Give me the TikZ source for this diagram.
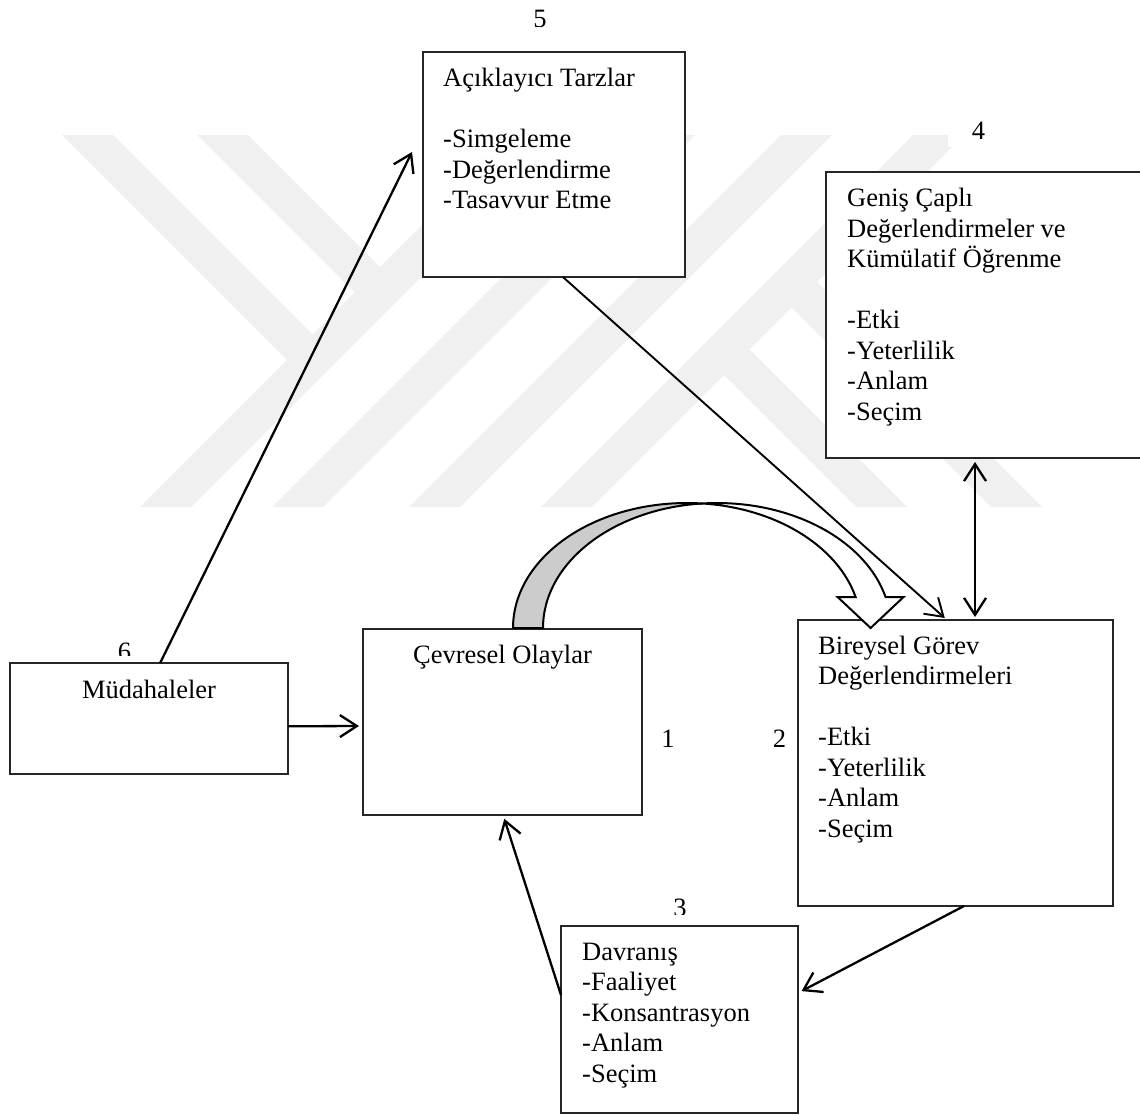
\documentclass[tikz,border=0pt]{standalone}
\usepackage{fontspec}
\setmainfont{Liberation Serif}
\usetikzlibrary{arrows.meta,calc}

% a block of lines with a fixed line pitch; its baseline is that of the first line
\newcommand\linestack[1]{\vtop{\baselineskip=30.5pt\lineskiplimit=-100pt #1}}
\newcommand\rowbox[1]{\hbox{#1}}

\begin{document}
\begin{tikzpicture}[x=1pt,y=-1pt,
  box/.style={draw=black!85, line width=1.5pt, fill=white, inner sep=0pt, outer sep=0pt, anchor=north west},
  txt/.style={inner sep=0pt, font=\fontsize{26.5}{30.5}\selectfont, anchor=base west},
  num/.style={inner sep=0pt, font=\fontsize{26.5}{30.5}\selectfont, anchor=base},
  conn/.style={line width=2.3pt, -{Straight Barb[length=17pt,width=22pt]}},
  thinconn/.style={line width=1.9pt, -{Straight Barb[length=17pt,width=22pt]}},
  dblconn/.style={line width=2.3pt, {Straight Barb[length=17pt,width=22pt]}-{Straight Barb[length=17pt,width=22pt]}},
  wm/.style={fill=black!6},
  bendarrow/.style={draw=black, line width=2pt}
]
\useasboundingbox (0,0) rectangle (1140,1115);
\clip (0,0) rectangle (1140,1115);

% faint emblem in the background
\fill[wm] (62,135) -- (113,135) -- (312.5,334.5) -- (287,360) -- cycle;
\fill[wm] (197,135) -- (248,135) -- (380,267) -- (354.5,292.5) -- cycle;
\fill[wm] (140,507) -- (191,507) -- (563,135) -- (512,135) -- cycle;
\fill[wm] (272,507) -- (323,507) -- (695,135) -- (644,135) -- cycle;
\fill[wm] (409,507) -- (460,507) -- (832,135) -- (781,135) -- cycle;
\fill[wm] (541,507) -- (592,507) -- (964,135) -- (913,135) -- cycle;
\fill[wm] (907,507) -- (856,507) -- (724,375) -- (749.5,349.5) -- cycle;
\fill[wm] (1042,507) -- (991,507) -- (791.5,307.5) -- (817,282) -- cycle;

% boxes
\node[box, minimum width=262pt, minimum height=225pt] (b5) at (423,52) {};
\node[box, minimum width=330pt, minimum height=286pt] (b4) at (826,172) {};
\node[box, minimum width=278pt, minimum height=111pt] (b6) at (10,663) {};
\node[box, minimum width=279pt, minimum height=186pt] (b1) at (363,629) {};
\node[box, minimum width=315pt, minimum height=286pt] (b2) at (798,620) {};
\node[box, minimum width=237pt, minimum height=187pt] (b3) at (561,926) {};

% box texts
\node[txt] (t5) at (443,87) {\linestack{\rowbox{Açıklayıcı Tarzlar}\rowbox{}\rowbox{-Simgeleme}\rowbox{-Değerlendirme}\rowbox{-Tasavvur Etme}}};
\node[txt] (t4) at (847,207) {\linestack{\rowbox{Geniş Çaplı}\rowbox{Değerlendirmeler ve}\rowbox{Kümülatif Öğrenme}\rowbox{}\rowbox{-Etki}\rowbox{-Yeterlilik}\rowbox{-Anlam}\rowbox{-Seçim}}};
\node[txt] (t2) at (818,654) {\linestack{\rowbox{Bireysel Görev}\rowbox{Değerlendirmeleri}\rowbox{}\rowbox{-Etki}\rowbox{-Yeterlilik}\rowbox{-Anlam}\rowbox{-Seçim}}};
\node[txt] (t3) at (582,960) {\linestack{\rowbox{Davranış}\rowbox{-Faaliyet}\rowbox{-Konsantrasyon}\rowbox{-Anlam}\rowbox{-Seçim}}};
\node[num] (t1) at (502.5,663) {Çevresel Olaylar};
\node[num] (t6) at (149,698) {Müdahaleler};

% step numbers (partly covered by their text frames)
\begin{scope}
  \clip (500,0) rectangle (580,26.5);
  \node[num] (n5) at (540,28) {5};
\end{scope}
\fill[white] (948,100) rectangle (990,147);
\node[num] (n4) at (978.5,140) {4};
\begin{scope}
  \clip (90,620) rectangle (160,655);
  \node[num] (n6) at (124.5,660) {6};
\end{scope}
\node[num] (n1) at (668,747) {1};
\begin{scope}
  \clip (750,700) rectangle (786,760);
  \node[num] (n2) at (779.5,747) {2};
\end{scope}
\begin{scope}
  \clip (650,880) rectangle (710,914);
  \node[num] (n3) at (680,916) {3};
\end{scope}

% bent block arrow from box 1 to box 2
\coordinate (cs) at ($(b1.north west)+(150,-1)$);
\begin{scope}[shift={(cs)}]
  \filldraw[bendarrow, fill=black!20, line join=round]
    (0,0) arc[start angle=180, end angle=274.95, x radius=174, y radius=125]
    arc[start angle=265.05, end angle=180, x radius=174, y radius=125] -- cycle;
  \filldraw[bendarrow, fill=white, line join=miter]
    (189,-124.5) arc[start angle=265.05, end angle=345.64, x radius=174, y radius=125]
    -- ++(18,0) -- (357.6,0) -- (324.6,-31) -- (342.6,-31)
    arc[start angle=345.64, end angle=274.95, x radius=174, y radius=125] -- cycle;
\end{scope}

% connectors
\coordinate (p1) at ($(b6.north west)!0.54!(b6.north east)$);
\coordinate (q1) at ($(b5.north west)+(-11,100)$);
\draw[conn] (p1) -- (q1);
\draw[conn, shorten >=4pt] ($(b6.north east)!0.57!(b6.south east)$) -- ($(b1.north west)!0.5215!(b1.south west)$);
\draw[thinconn, shorten >=3pt] ($(b5.south west)!0.534!(b5.south east)$) -- ($(b2.north west)!0.473!(b2.north east)$);
\coordinate (p4) at ($(b2.north west)!0.562!(b2.north east)$);
\draw[dblconn, shorten <=3pt, shorten >=4pt] (p4) -- (p4 |- b4.south);
\draw[conn, shorten >=4pt] ($(b2.south west)!0.527!(b2.south east)$) -- ($(b3.north east)!0.358!(b3.south east)$);
\draw[conn, shorten >=4pt] ($(b3.north west)!0.369!(b3.south west)$) -- ($(b1.south west)!0.502!(b1.south east)$);
\end{tikzpicture}
\end{document}
